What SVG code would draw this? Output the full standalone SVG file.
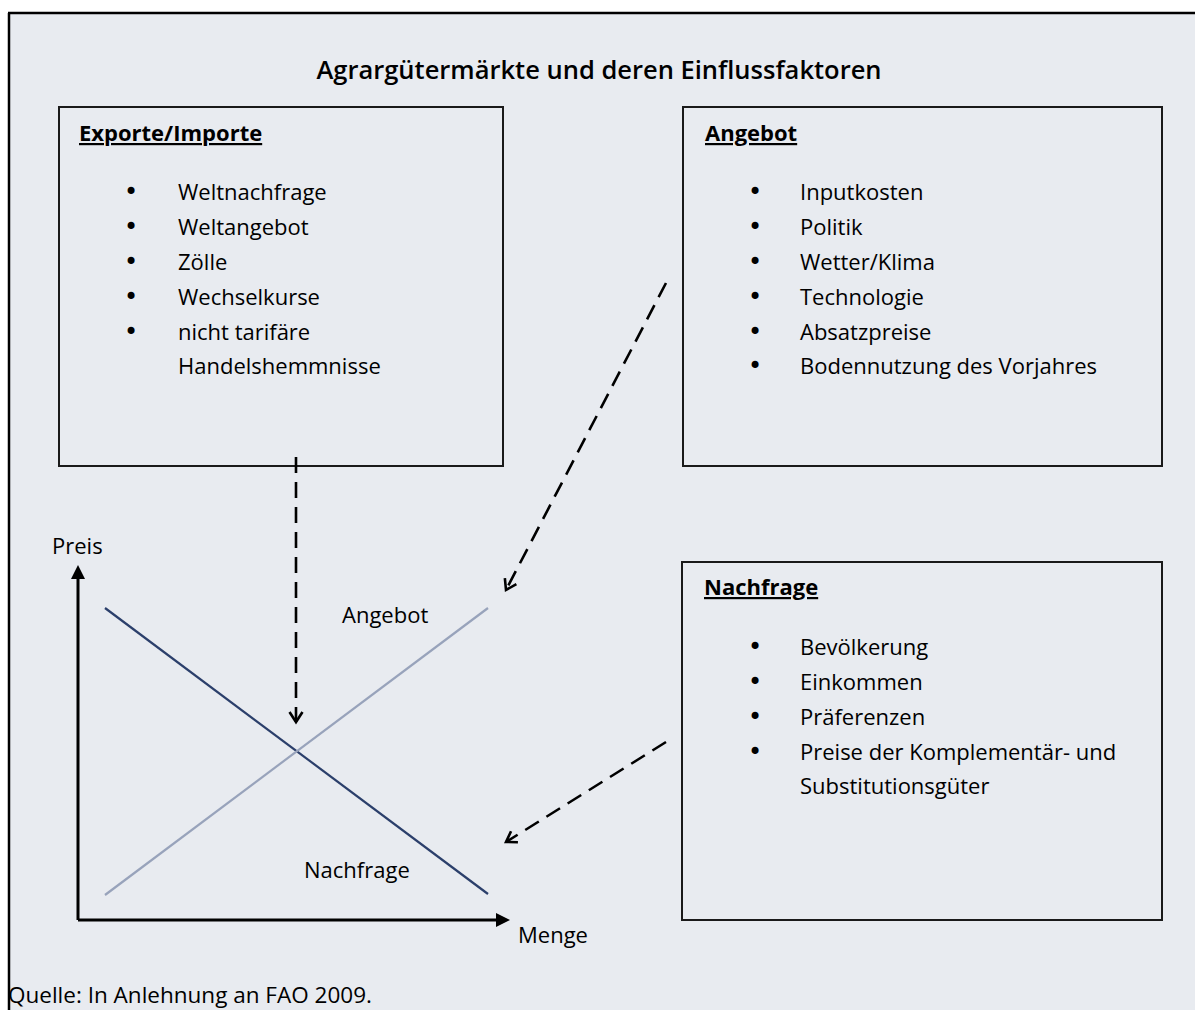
<svg xmlns="http://www.w3.org/2000/svg" width="1195" height="1010" viewBox="0 0 1195 1010">
<defs>
<style>
text{font-family:"Open Sans","Noto Sans","DejaVu Sans",sans-serif;fill:#000;font-size:22px}
.title{font-size:25.5px;font-weight:600}
.head{font-weight:700;text-decoration:underline}
.bul{font-family:"DejaVu Sans",sans-serif;font-size:24px}
.src{font-size:22.5px}
.box{fill:none;stroke:#1a1a1a;stroke-width:2}
.dash{fill:none;stroke:#000;stroke-width:2.6;stroke-dasharray:16 9}
.axis{stroke:#000;stroke-width:3;fill:none}
</style>
<marker id="open" markerWidth="16" markerHeight="16" refX="12" refY="8" orient="auto" markerUnits="userSpaceOnUse">
<path d="M2,1.5 L12,8 L2,14.5" fill="none" stroke="#000" stroke-width="2.6"/>
</marker>
<marker id="tri" markerWidth="16" markerHeight="16" refX="2" refY="8" orient="auto" markerUnits="userSpaceOnUse">
<path d="M0,1 L14,8 L0,15 Z" fill="#000"/>
</marker>
</defs>
<rect x="0" y="0" width="1195" height="1010" fill="#fff"/>
<rect x="8" y="13" width="1190" height="1000" fill="#E8EBF0"/>
<line x1="8" y1="13" x2="1195" y2="13" stroke="#000" stroke-width="2.5"/>
<line x1="9" y1="13" x2="9" y2="1010" stroke="#000" stroke-width="2.5"/>
<text class="title" x="599" y="79" text-anchor="middle">Agrargütermärkte und deren Einflussfaktoren</text>

<g id="exporte">
<rect class="box" x="59" y="107" width="444" height="359"/>
<text class="head" x="79" y="141">Exporte/Importe</text>
<text class="bul" x="124" y="200">•</text><text x="178" y="200">Weltnachfrage</text>
<text class="bul" x="124" y="235">•</text><text x="178" y="235">Weltangebot</text>
<text class="bul" x="124" y="270">•</text><text x="178" y="270">Zölle</text>
<text class="bul" x="124" y="305">•</text><text x="178" y="305">Wechselkurse</text>
<text class="bul" x="124" y="340">•</text><text x="178" y="340">nicht tarifäre</text>
<text x="178" y="374">Handelshemmnisse</text>
</g>

<g id="angebot">
<rect class="box" x="683" y="107" width="479" height="359"/>
<text class="head" x="705" y="141">Angebot</text>
<text class="bul" x="748" y="200">•</text><text x="800" y="200">Inputkosten</text>
<text class="bul" x="748" y="235">•</text><text x="800" y="235">Politik</text>
<text class="bul" x="748" y="270">•</text><text x="800" y="270">Wetter/Klima</text>
<text class="bul" x="748" y="305">•</text><text x="800" y="305">Technologie</text>
<text class="bul" x="748" y="340">•</text><text x="800" y="340">Absatzpreise</text>
<text class="bul" x="748" y="374">•</text><text x="800" y="374">Bodennutzung des Vorjahres</text>
</g>

<g id="nachfrage">
<rect class="box" x="682" y="562" width="480" height="358"/>
<text class="head" x="704" y="595">Nachfrage</text>
<text class="bul" x="748" y="655">•</text><text x="800" y="655">Bevölkerung</text>
<text class="bul" x="748" y="690">•</text><text x="800" y="690">Einkommen</text>
<text class="bul" x="748" y="725">•</text><text x="800" y="725">Präferenzen</text>
<text class="bul" x="748" y="760">•</text><text x="800" y="760">Preise der Komplementär- und</text>
<text x="800" y="794">Substitutionsgüter</text>
</g>

<g id="graph">
<line class="axis" x1="78" y1="920" x2="78" y2="577" marker-end="url(#tri)"/>
<line class="axis" x1="78" y1="920" x2="498" y2="920" marker-end="url(#tri)"/>
<text x="52" y="554">Preis</text>
<text x="518" y="943">Menge</text>
<line x1="105" y1="608" x2="488" y2="894" stroke="#2B3F6B" stroke-width="2.2"/>
<line x1="105" y1="895" x2="488" y2="608" stroke="#98A3BB" stroke-width="2.2"/>
<text x="342" y="623">Angebot</text>
<text x="304" y="878">Nachfrage</text>
</g>

<g id="connectors">
<line class="dash" x1="296" y1="457" x2="296" y2="722" marker-end="url(#open)"/>
<line class="dash" x1="666" y1="283" x2="506" y2="590" marker-end="url(#open)"/>
<line class="dash" x1="666" y1="742" x2="506" y2="842" marker-end="url(#open)"/>
</g>

<text class="src" x="8" y="1003">Quelle: In Anlehnung an FAO 2009.</text>
</svg>
